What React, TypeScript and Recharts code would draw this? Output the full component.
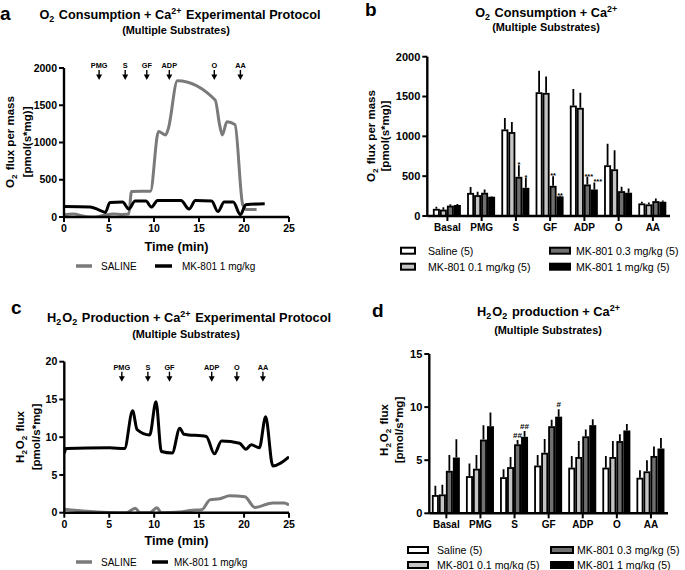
import React from "react";
import { LineChart, Line, XAxis, YAxis, BarChart, Bar, ReferenceDot } from "recharts";

const FONT = "'Liberation Sans', Arial, Helvetica, sans-serif";
const GRAY_LINE = "#7a7a7a";

// ---------- Panel a: O2 consumption protocol traces ----------
const o2Injections = ["PMG", "S", "GF", "ADP", "O", "AA"];
const o2InjectionTimes = [3.9, 6.8, 9.2, 11.7, 16.7, 19.6];
const o2SalineTime = [0, 1, 2.5, 3.5, 4.5, 5.5, 6.5, 7.2, 7.5, 9.6, 10.5, 11.3, 11.6, 12.6, 16.8, 17.3, 17.6, 18.1, 19.0, 19.85, 20.3, 21.4];
const o2SalineFlux = [30, 40, 5, 0, 25, 40, 35, 40, 343, 345, 1147, 1102, 1190, 1830, 1571, 1230, 1102, 1280, 1240, 170, 100, 100];
const o2MkTime = [0, 2.9, 3.8, 4.6, 5.1, 6.5, 7.2, 7.9, 9.1, 9.7, 10.4, 13.0, 13.9, 14.6, 16.4, 17.1, 17.8, 18.8, 19.6, 20.2, 22.3];
const o2MkFlux = [142, 135, 100, 62, 196, 200, 107, 214, 214, 134, 220, 220, 107, 220, 215, 73, 200, 200, 31, 165, 178];

// ---------- Panel c: H2O2 production protocol traces ----------
const h2Injections = ["PMG", "S", "GF", "ADP", "O", "AA"];
const h2InjectionTimes = [6.4, 9.3, 11.7, 16.4, 19.2, 22.1];
const h2SalineTime = [0, 2.5, 6.9, 7.9, 8.4, 9.5, 10.3, 10.8, 12.9, 14.0, 15.3, 16.2, 17.3, 18.4, 20.1, 21.2, 23.2, 24.5, 25];
const h2SalineFlux = [0.45, 0.2, 0.0, 0.6, 0.0, 0.0, 0.65, 0.0, 0.1, 0.3, 0.4, 1.7, 1.85, 2.25, 2.1, 0.7, 1.3, 1.3, 1.0];
const h2MkTime = [0, 0.2, 5, 6.7, 7.6, 8.1, 9.5, 10.2, 10.8, 12.0, 12.85, 13.3, 15.8, 16.7, 17.5, 19.5, 20.2, 20.8, 21.7, 22.4, 23.2, 25];
const h2MkFlux = [7.9, 8.5, 8.6, 8.5, 13.5, 11.0, 10.3, 14.7, 8.1, 7.9, 11.2, 10.4, 10.1, 7.8, 9.5, 9.2, 8.4, 9.0, 8.6, 12.7, 6.2, 7.4];

// ---------- Panels b & d: bar charts ----------
const categories = ["Basal", "PMG", "S", "GF", "ADP", "O", "AA"];

const o2Saline = [90, 290, 1087, 1554, 1387, 637, 158];
const o2SalineSem = [27, 75, 142, 271, 209, 271, 21];
const o2Mk01 = [80, 262, 1054, 1546, 1358, 587, 146];
const o2Mk01Sem = [30, 42, 125, 204, 188, 238, 25];
const o2Mk03 = [130, 292, 492, 379, 396, 312, 187];
const o2Mk03Sem = [18, 41, 145, 121, 96, 55, 34];
const o2Mk1 = [138, 242, 354, 246, 333, 292, 179];
const o2Mk1Sem = [12, 5, 125, 8, 88, 54, 17];
const o2Mk03Sig = ["", "", "*", "**", "***", "", ""];
const o2Mk1Sig = ["", "", "*", "**", "***", "", ""];

const h2Saline = [1.72, 3.5, 3.4, 4.5, 4.3, 4.3, 3.35];
const h2SalineSem = [0.88, 1.2, 0.75, 1.0, 1.1, 1.1, 0.7];
const h2Mk01 = [1.78, 4.2, 4.35, 5.7, 5.3, 5.3, 3.95];
const h2Mk01Sem = [0.92, 1.3, 0.95, 1.3, 1.5, 1.5, 1.05];
const h2Mk03 = [4.0, 6.94, 6.5, 8.2, 7.25, 6.8, 5.4];
const h2Mk03Sem = [1.5, 1.36, 0.4, 0.6, 0.65, 0.65, 0.9];
const h2Mk1 = [5.25, 8.2, 7.2, 9.1, 8.3, 7.8, 6.1];
const h2Mk1Sem = [1.72, 1.3, 0.55, 0.7, 0.55, 0.6, 1.0];
const h2Mk03Sig = ["", "", "##", "", "", "", ""];
const h2Mk1Sig = ["", "", "##", "#", "", "", ""];

const o2Ticks = [0, 500, 1000, 1500, 2000];
const h2LineTicks = [0, 5, 10, 15, 20];
const h2BarTicks = [0, 5, 10, 15];
const timeTicks = [0, 5, 10, 15, 20, 25];

const toSeries = (t: number[], v: number[]) => t.map((x, i) => ({ t: x, v: v[i] }));

const buildRows = (
  s: number[], sS: number[], a: number[], aS: number[], b: number[], bS: number[], c: number[], cS: number[],
  bSig: string[], cSig: string[]
) =>
  categories.map((cat, i) => ({
    cat,
    saline: s[i], salineSem: sS[i], salineSig: "",
    mk01: a[i], mk01Sem: aS[i], mk01Sig: "",
    mk03: b[i], mk03Sem: bS[i], mk03Sig: bSig[i],
    mk1: c[i], mk1Sem: cS[i], mk1Sig: cSig[i],
  }));

const o2Rows = buildRows(o2Saline, o2SalineSem, o2Mk01, o2Mk01Sem, o2Mk03, o2Mk03Sem, o2Mk1, o2Mk1Sem, o2Mk03Sig, o2Mk1Sig);
const h2Rows = buildRows(h2Saline, h2SalineSem, h2Mk01, h2Mk01Sem, h2Mk03, h2Mk03Sem, h2Mk1, h2Mk1Sem, h2Mk03Sig, h2Mk1Sig);

const axisLine = { stroke: "#000", strokeWidth: 2.4 };
const tickLine = { stroke: "#000", strokeWidth: 2 };
const tickStyle = { fill: "#000", fontSize: 10.5, fontWeight: 700, fontFamily: FONT };
const catTickStyle = { fill: "#000", fontSize: 10, fontWeight: 700, fontFamily: FONT };

const arrowShape = (label: string) => (props: any) => {
  const { cx, cy } = props;
  return (
    <g>
      <text x={cx} y={cy - 12} textAnchor="middle" fontSize={7.3} fontWeight={700} fontFamily={FONT} fill="#000">
        {label}
      </text>
      <line x1={cx} x2={cx} y1={cy - 10} y2={cy - 4} stroke="#000" strokeWidth={1.4} />
      <path d={`M${cx - 3},${cy - 5.5} L${cx + 3},${cy - 5.5} L${cx},${cy} Z`} fill="#000" />
    </g>
  );
};

const barShape = (fill: string, semKey: string, sigKey: string, sigDx: number) => (props: any) => {
  const { x, y, width, height, payload, value } = props;
  const v = Array.isArray(value) ? value[1] - value[0] : value;
  const ppu = v ? height / v : 0;
  const sem = payload[semKey] || 0;
  const errTop = y - sem * ppu;
  const cx = x + width / 2;
  const sig: string = payload[sigKey] || "";
  const isHash = sig.indexOf("#") >= 0;
  return (
    <g>
      <rect x={x + 0.9} y={y + 0.9} width={Math.max(width - 1.8, 0)} height={Math.max(height - 0.9, 0)} fill={fill} stroke="#000" strokeWidth={1.8} />
      <line x1={cx} x2={cx} y1={y} y2={errTop} stroke="#000" strokeWidth={1.8} />
      {sig ? (
        <text x={cx + (sig.length === 3 ? sigDx : 0)} y={isHash ? errTop - 2 : errTop + 2} textAnchor="middle" fontSize={isHash ? 8 : 7.5} fontWeight={700} fontFamily={FONT} fill="#000">
          {sig}
        </text>
      ) : null}
    </g>
  );
};

const seriesFills = [
  { key: "saline", fill: "#ffffff", dx: 0 },
  { key: "mk01", fill: "#c4c4c4", dx: 0 },
  { key: "mk03", fill: "#707070", dx: 1.5 },
  { key: "mk1", fill: "#000000", dx: 3.5 },
];

const Sub = ({ children }: any) => (
  <>
    <tspan dy={3} fontSize="70%">{children}</tspan>
    <tspan dy={-3}>{"\u200A"}</tspan>
  </>
);
const Sup = ({ children }: any) => (
  <>
    <tspan dy={-5} fontSize="70%">{children}</tspan>
    <tspan dy={5}>{"\u200A"}</tspan>
  </>
);

const LineLegend = ({ y, sx1, sx2, tx1, mx1, mx2, tx2 }: any) => (
  <g fontFamily={FONT} fontSize={10} fill="#000">
    <line x1={sx1} x2={sx2} y1={y} y2={y} stroke={GRAY_LINE} strokeWidth={3.5} />
    <text x={tx1} y={y + 3.5}>SALINE</text>
    <line x1={mx1} x2={mx2} y1={y} y2={y} stroke="#000" strokeWidth={3.5} />
    <text x={tx2} y={y + 3.5}>MK-801 1 mg/kg</text>
  </g>
);

const BarLegend = ({ y1, y2, c1, w1, t1, c2, w2, t2 }: any) => {
  const items = [
    { x: c1, w: w1, tx: t1, y: y1, fill: "#ffffff", label: "Saline (5)" },
    { x: c1, w: w1, tx: t1, y: y2, fill: "#c4c4c4", label: "MK-801 0.1 mg/kg (5)" },
    { x: c2, w: w2, tx: t2, y: y1, fill: "#707070", label: "MK-801 0.3 mg/kg (5)" },
    { x: c2, w: w2, tx: t2, y: y2, fill: "#000000", label: "MK-801 1 mg/kg (5)" },
  ];
  return (
    <g fontFamily={FONT} fontSize={10.6} fill="#000">
      {items.map((it) => (
        <g key={it.label}>
          <rect x={it.x} y={it.y - 3} width={it.w} height={6} fill={it.fill} stroke="#000" strokeWidth={2} />
          <text x={it.tx} y={it.y + 3.8}>{it.label}</text>
        </g>
      ))}
    </g>
  );
};

const RotLabel = ({ x, y, children, size = 11.5 }: any) => (
  <text x={x} y={y} transform={`rotate(-90 ${x} ${y})`} textAnchor="middle" fontFamily={FONT} fontWeight={700} fontSize={size} fill="#000">
    {children}
  </text>
);

export default function App() {
  const o2SalineData = toSeries(o2SalineTime, o2SalineFlux);
  const o2MkData = toSeries(o2MkTime, o2MkFlux);
  const h2SalineData = toSeries(h2SalineTime, h2SalineFlux);
  const h2MkData = toSeries(h2MkTime, h2MkFlux);

  return (
    <div style={{ position: "absolute", left: 0, top: 0, width: 685, height: 570, background: "#fff", fontFamily: FONT }}>
      {/* Panel a */}
      <div style={{ position: "absolute", left: 0, top: 0 }}>
        <LineChart width={300} height={240} margin={{ top: 68, right: 11, bottom: 0, left: 0 }}>
          <XAxis type="number" dataKey="t" domain={[0, 25]} ticks={timeTicks} allowDataOverflow height={23}
            axisLine={axisLine} tickLine={tickLine} tickSize={5} tickMargin={3} tick={tickStyle} interval={0} />
          <YAxis type="number" domain={[0, 2000]} ticks={o2Ticks} width={64} allowDataOverflow
            axisLine={axisLine} tickLine={tickLine} tickSize={5} tickMargin={2} tick={tickStyle} interval={0} />
          <Line data={o2SalineData} dataKey="v" type="monotone" stroke={GRAY_LINE} strokeWidth={3} dot={false} isAnimationActive={false} />
          <Line data={o2MkData} dataKey="v" type="monotone" stroke="#000" strokeWidth={3} dot={false} isAnimationActive={false} />
          {o2Injections.map((lab, i) => (
            <ReferenceDot key={lab} x={o2InjectionTimes[i]} y={1840} r={0} shape={arrowShape(lab)} ifOverflow="visible" />
          ))}
        </LineChart>
      </div>

      {/* Panel c */}
      <div style={{ position: "absolute", left: 0, top: 290 }}>
        <LineChart width={300} height={250} margin={{ top: 71.7, right: 11, bottom: 0, left: 0 }}>
          <XAxis type="number" dataKey="t" domain={[0, 25]} ticks={timeTicks} allowDataOverflow height={27.3}
            axisLine={axisLine} tickLine={tickLine} tickSize={5} tickMargin={3} tick={tickStyle} interval={0} />
          <YAxis type="number" domain={[0, 20]} ticks={h2LineTicks} width={64.3} allowDataOverflow
            axisLine={axisLine} tickLine={tickLine} tickSize={5} tickMargin={2} tick={tickStyle} interval={0} />
          <Line data={h2SalineData} dataKey="v" type="monotone" stroke={GRAY_LINE} strokeWidth={3} dot={false} isAnimationActive={false} />
          <Line data={h2MkData} dataKey="v" type="monotone" stroke="#000" strokeWidth={3} dot={false} isAnimationActive={false} />
          {h2Injections.map((lab, i) => (
            <ReferenceDot key={lab} x={h2InjectionTimes[i]} y={17.35} r={0} shape={arrowShape(lab)} ifOverflow="visible" />
          ))}
        </LineChart>
      </div>

      {/* Panel b */}
      <div style={{ position: "absolute", left: 340, top: 0 }}>
        <BarChart width={340} height={240} data={o2Rows} margin={{ top: 56.7, right: 10, bottom: 0, left: 0 }}
          barCategoryGap="7.5%" barGap={0}>
          <XAxis dataKey="cat" type="category" height={24} padding={{ left: 3, right: 0 }}
            axisLine={axisLine} tickLine={tickLine} tickSize={5} tickMargin={3} tick={catTickStyle} interval={0} />
          <YAxis type="number" domain={[0, 2000]} ticks={o2Ticks} width={87.3} allowDataOverflow
            axisLine={axisLine} tickLine={tickLine} tickSize={5} tickMargin={2} tick={{ ...tickStyle, fontSize: 11 }} interval={0} />
          {seriesFills.map((s) => (
            <Bar key={s.key} dataKey={s.key} isAnimationActive={false} shape={barShape(s.fill, s.key + "Sem", s.key + "Sig", s.dx)} />
          ))}
        </BarChart>
      </div>

      {/* Panel d */}
      <div style={{ position: "absolute", left: 340, top: 290 }}>
        <BarChart width={340} height={250} data={h2Rows} margin={{ top: 64, right: 12, bottom: 0, left: 0 }}
          barCategoryGap="7.5%" barGap={0}>
          <XAxis dataKey="cat" type="category" height={26.7} padding={{ left: 0, right: 0 }}
            axisLine={axisLine} tickLine={tickLine} tickSize={5} tickMargin={3} tick={catTickStyle} interval={0} />
          <YAxis type="number" domain={[0, 15]} ticks={h2BarTicks} width={89.3} allowDataOverflow
            axisLine={axisLine} tickLine={tickLine} tickSize={5} tickMargin={2} tick={{ ...tickStyle, fontSize: 11 }} interval={0} />
          {seriesFills.map((s) => (
            <Bar key={s.key} dataKey={s.key} isAnimationActive={false} shape={barShape(s.fill, s.key + "Sem", s.key + "Sig", 0)} />
          ))}
        </BarChart>
      </div>

      {/* Text overlay: panel letters, titles, axis titles, legends */}
      <svg width={685} height={570} style={{ position: "absolute", left: 0, top: 0, pointerEvents: "none" }}>
        <g fontFamily={FONT} fontWeight={700} fill="#000">
          <text x={0} y={20} fontSize={19}>a</text>
          <text x={365} y={15.5} fontSize={19}>b</text>
          <text x={11} y={313.5} fontSize={19}>c</text>
          <text x={372} y={317} fontSize={19}>d</text>

          <text x={180} y={19} fontSize={12.7} textAnchor="middle">
            O<Sub>2</Sub> Consumption + Ca<Sup>2+</Sup> Experimental Protocol
          </text>
          <text x={176} y={33.5} fontSize={10.9} textAnchor="middle">(Multiple Substrates)</text>

          <text x={546.7} y={16.5} fontSize={12.7} textAnchor="middle">
            O<Sub>2</Sub> Consumption + Ca<Sup>2+</Sup>
          </text>
          <text x={546} y={31} fontSize={10.9} textAnchor="middle">(Multiple Substrates)</text>

          <text x={189} y={321.5} fontSize={12.8} textAnchor="middle">
            H<Sub>2</Sub>O<Sub>2</Sub> Production + Ca<Sup>2+</Sup> Experimental Protocol
          </text>
          <text x={186} y={337.5} fontSize={10.9} textAnchor="middle">(Multiple Substrates)</text>

          <text x={549} y={316} fontSize={12.8} textAnchor="middle">
            H<Sub>2</Sub>O<Sub>2</Sub> production + Ca<Sup>2+</Sup>
          </text>
          <text x={548} y={333.5} fontSize={10.9} textAnchor="middle">(Multiple Substrates)</text>

          <text x={176.5} y={250.5} fontSize={12.7} textAnchor="middle">Time (min)</text>
          <text x={176.5} y={545} fontSize={12.7} textAnchor="middle">Time (min)</text>
        </g>

        <RotLabel x={14} y={142}>O<Sub>2</Sub> flux per mass</RotLabel>
        <RotLabel x={31} y={142}>[pmol(s*mg)]</RotLabel>
        <RotLabel x={375} y={136}>O<Sub>2</Sub> flux per mass</RotLabel>
        <RotLabel x={389} y={136}>[pmol(s*mg)]</RotLabel>
        <RotLabel x={23.5} y={437}>H<Sub>2</Sub>O<Sub>2</Sub> flux</RotLabel>
        <RotLabel x={39.5} y={437}>[pmol/s*mg]</RotLabel>
        <RotLabel x={388} y={430}>H<Sub>2</Sub>O<Sub>2</Sub> flux</RotLabel>
        <RotLabel x={403} y={430}>[pmol/s*mg]</RotLabel>

        <LineLegend y={266} sx1={76} sx2={92} tx1={101} mx1={155} mx2={172} tx2={182} />
        <LineLegend y={562} sx1={76} sx2={92} tx1={101} mx1={152} mx2={168} tx2={174} />

        <BarLegend y1={250.7} y2={266.7} c1={401} w1={14} t1={428} c2={550} w2={20} t2={576} />
        <BarLegend y1={550} y2={565} c1={408} w1={20} t1={437} c2={551} w2={22} t2={577} />
      </svg>
    </div>
  );
}
